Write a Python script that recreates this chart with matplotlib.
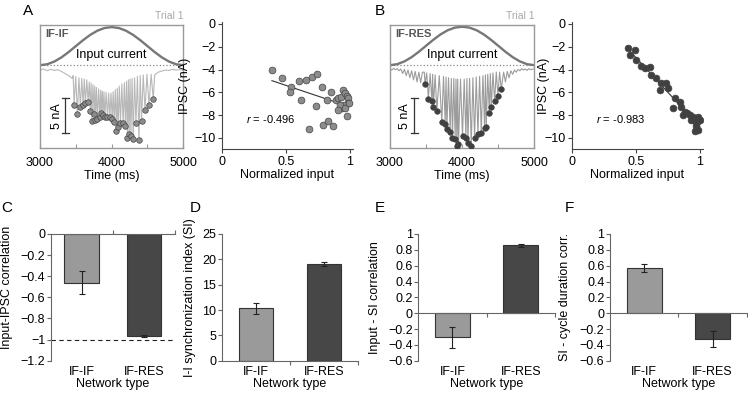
import numpy as np
import matplotlib
matplotlib.use("Agg")
import matplotlib.pyplot as plt
from matplotlib.ticker import FuncFormatter

plt.rcParams['font.family'] = ['Liberation Sans', 'DejaVu Sans']
plt.rcParams['mathtext.fontset'] = 'custom'
plt.rcParams['mathtext.it'] = 'Liberation Sans:italic'
plt.rcParams['mathtext.rm'] = 'Liberation Sans'
plt.rcParams['font.size'] = 9

W, H = 748, 401

# ---------------- data ----------------
# input current (display units above the dotted line), every 100 ms
input_t = [3000, 3100, 3200, 3300, 3400, 3500, 3600, 3700, 3800, 3900, 4000,
           4100, 4200, 4300, 4400, 4500, 4600, 4700, 4800, 4900, 5000]
input_a = [0, 0.13, 0.52, 1.12, 1.88, 2.73, 3.57, 4.33, 4.93, 5.32, 5.45,
           5.32, 4.93, 4.33, 3.57, 2.73, 1.88, 1.12, 0.52, 0.13, 0]
input_b = [0, 0.14, 0.54, 1.15, 1.92, 2.78, 3.63, 4.40, 5.00, 5.38, 5.50,
           5.38, 5.00, 4.40, 3.63, 2.78, 1.92, 1.15, 0.54, 0.14, 0]

# IF-IF trial: IPSC trace (nA)
pre_t_a = [3000, 3050, 3100, 3150, 3200, 3250, 3300, 3350, 3400, 3450]
pre_v_a = [-0.7, -0.55, -0.8, -0.6, -0.75, -0.65, -0.9, -1.2, -1.5, -1.9]
peak_t_a = [3476, 3522, 3564, 3602, 3634, 3672, 3704, 3723, 3755, 3774, 3802, 3835,
            3858, 3881, 3905, 3942, 3975, 4007, 4035, 4067, 4091, 4123, 4161, 4193,
            4221, 4245, 4269, 4301, 4339, 4381, 4417, 4465, 4521, 4581]
peak_v_a = [-5.71, -7.0, -5.96, -5.71, -5.47, -5.24, -6.53, -8.0, -7.04, -7.86, -7.76, -7.47,
            -6.9, -7.19, -7.39, -7.47, -7.47, -7.67, -8.1, -9.39, -8.81, -8.33, -8.33, -8.71,
            -10.47, -9.86, -10.14, -10.57, -8.33, -10.71, -7.96, -6.43, -5.71, -4.86]
top_v_a = [-1.5, -1.6, -1.8, -1.9, -2.0, -2.1, -2.4, -2.6, -2.8, -3.0, -3.2, -3.4,
           -3.6, -3.7, -3.8, -3.9, -4.0, -4.0, -3.8, -3.5, -3.3, -3.0, -2.7, -2.5,
           -2.3, -2.1, -2.0, -1.9, -1.8, -1.6, -1.5, -1.4, -1.3, -1.3]
post_t_a = [4600, 4650, 4700, 4750, 4800, 4850, 4900, 4950, 5000]
post_v_a = [-1.4, -1.0, -0.85, -0.7, -0.75, -0.6, -0.7, -0.65, -0.7]

# IF-RES trial: IPSC trace (nA)
pre_t_b = [3000, 3025, 3050, 3075, 3100, 3125, 3150, 3175, 3200, 3225,
           3250, 3275, 3300, 3325, 3350, 3375, 3400, 3425, 3450, 3465]
pre_v_b = [-0.5, -0.7, -0.45, -0.65, -0.5, -0.8, -0.55, -1.2, -0.6, -1.5,
           -0.7, -1.8, -0.8, -2.1, -0.9, -2.4, -1.0, -2.5, -1.0, -1.0]
peak_t_b = [3486, 3532, 3580, 3602, 3649, 3718, 3765, 3788, 3834, 3866, 3903, 3927, 3949,
            4005, 4052, 4080, 4126, 4172, 4219, 4265, 4311, 4334, 4376, 4404, 4450, 4496, 4542]
peak_v_b = [-2.65, -4.8, -5.1, -6.0, -6.5, -8.2, -8.35, -9.2, -9.5, -10.4, -10.5, -11.6, -11.3,
            -10.2, -10.4, -11.1, -11.6, -10.4, -9.9, -9.7, -9.0, -8.8, -6.8, -6.0, -5.1, -4.35, -3.4]
top_v_b = [-1.0, -1.1, -1.2, -1.3, -1.4, -1.5, -1.6, -1.7, -1.8, -1.9, -1.9, -2.0, -2.0,
           -2.0, -2.0, -1.9, -1.9, -1.8, -1.7, -1.6, -1.5, -1.4, -1.3, -1.2, -1.1, -1.0, -1.0]
post_t_b = [4575, 4600, 4625, 4650, 4675, 4700, 4725, 4750, 4775, 4800,
            4825, 4850, 4875, 4900, 4925, 4950, 4975, 5000]
post_v_b = [-1.0, -2.4, -0.9, -1.8, -0.8, -1.3, -0.7, -1.0, -0.6, -0.8,
            -0.5, -0.7, -0.55, -0.75, -0.5, -0.65, -0.55, -0.6]

# normalized input vs IPSC peak
norm_in_a = [0.39, 0.465, 0.535, 0.53, 0.60, 0.655, 0.705, 0.74, 0.615, 0.733, 0.783, 0.85,
             0.817, 0.68, 0.79, 0.83, 0.87, 0.888, 0.908, 0.93, 0.948, 0.96, 0.974, 0.987,
             0.982, 0.953, 0.935, 0.92, 0.903, 0.979, 0.96, 0.99]
ipsc_a = [-4.03, -4.77, -5.5, -5.94, -5.0, -4.91, -4.62, -4.36, -6.7, -7.17, -5.56, -6.0,
          -6.67, -9.2, -8.86, -8.48, -8.92, -6.67, -6.52, -6.37, -5.79, -6.08, -6.29, -6.46,
          -6.9, -7.1, -7.4, -7.1, -7.54, -8.07, -7.4, -6.96]
norm_in_b = [0.4375, 0.49, 0.45, 0.50, 0.54, 0.568, 0.607, 0.62, 0.659, 0.698, 0.737, 0.75,
             0.685, 0.807, 0.84, 0.79, 0.854, 0.88, 0.90, 0.92, 0.867, 0.945, 0.984, 0.958,
             0.979, 0.997, 0.932, 0.971, 0.958, 0.984]
ipsc_b = [-2.13, -2.28, -2.72, -3.16, -3.68, -3.89, -3.8, -4.47, -4.77, -5.15, -5.2, -5.64,
          -5.79, -6.52, -6.81, -7.4, -7.25, -7.69, -7.84, -7.98, -7.98, -8.13, -8.19, -8.48,
          -8.57, -8.42, -8.42, -8.95, -9.36, -9.3]
r_a = -0.496
r_b = -0.983

# bar panels
net_types = ['IF-IF', 'IF-RES']
corr_in_ipsc = [-0.46, -0.966]
corr_in_ipsc_err = [0.105, 0.006]
sync_index = [10.3, 19.05]
sync_index_err = [1.15, 0.35]
corr_in_si = [-0.305, 0.855]
corr_in_si_err = [0.13, 0.025]
corr_si_cycle = [0.572, -0.324]
corr_si_cycle_err = [0.055, 0.105]

LIGHT = '#9a9a9a'
DARK = '#474747'


def minus_fmt(v, pos):
    s = f'{v:g}'
    if s == '-0':
        s = '0'
    return s.replace('-', '\u2212')


def px_axes(fig, l, t, r, b):
    return fig.add_axes([l / W, 1 - b / H, (r - l) / W, (b - t) / H])


def trace_panel(ax, pre_t, pre_v, peak_t, peak_v, top_v, post_t, post_v, inp,
                name, line_color, dot_color, bar_t, label_t):
    ts, vs = list(pre_t), list(pre_v)
    prev = pre_t[-1]
    for t, v, top in zip(peak_t, peak_v, top_v):
        ts += [(prev + t) / 2, t]
        vs += [top, v]
        prev = t
    ts += post_t
    vs += post_v
    ax.axhline(0, ls=':', color='#888888', lw=0.9)
    ax.plot(input_t, inp, color='#777777', lw=1.7)
    ax.plot(ts, vs, color=line_color, lw=0.8)
    ax.scatter(peak_t, peak_v, s=16, c=dot_color, edgecolors='#444444',
               linewidths=0.5, zorder=3)
    # 5 nA scale bar
    ax.plot([bar_t, bar_t], [-4.75, -9.75], color='#333333', lw=0.9)
    for yy in (-4.75, -9.75):
        ax.plot([bar_t - 45, bar_t + 45], [yy, yy], color='#333333', lw=0.9)
    ax.text(label_t, -7.25, '5 nA', rotation=90, ha='center', va='center')
    ax.text(4000, 1.45, 'Input current', ha='center', va='center')
    ax.text(0.035, 0.93, name, transform=ax.transAxes, fontsize=8,
            fontweight='bold', color='#555555', va='center')
    ax.text(1.0, 1.035, 'Trial 1', transform=ax.transAxes, ha='right', va='bottom',
            fontsize=7.5, color='#a8a8a8')
    ax.set_xlim(3000, 5000)
    ax.set_ylim(-11.9, 5.75)
    ax.set_xticks([3000, 3500, 4000, 4500, 5000], ['3000', '', '4000', '', '5000'])
    ax.set_yticks([])
    ax.tick_params(axis='x', direction='in', length=3, color='#999999', pad=6)
    for sp in ax.spines.values():
        sp.set_color('#999999')
        sp.set_linewidth(1.0)
    ax.set_xlabel('Time (ms)', labelpad=1)


def scatter_panel(ax, x, y, r, face, ylab_x):
    slope, icept = np.polyfit(x, y, 1)
    xx = np.array([min(x), max(x)])
    ax.plot(xx, slope * xx + icept, color='#333333', lw=0.8, zorder=2)
    ax.scatter(x, y, s=24, c=face, edgecolors='#444444', linewidths=0.5, zorder=3)
    ax.text(0.19, -8.3, f'$r$ = {r:.3f}', fontsize=8, va='center')
    ax.set_xlim(0, 1.02)
    ax.set_ylim(-11, 0.2)
    ax.set_xticks([0, 0.5, 1])
    ax.set_yticks([0, -2, -4, -6, -8, -10])
    ax.xaxis.set_major_formatter(FuncFormatter(minus_fmt))
    ax.yaxis.set_major_formatter(FuncFormatter(minus_fmt))
    ax.spines[['top', 'right']].set_visible(False)
    for sp in ('left', 'bottom'):
        ax.spines[sp].set_color('#444444')
        ax.spines[sp].set_linewidth(0.8)
    ax.tick_params(direction='out', length=3, width=0.8, color='#444444', pad=1.5)
    ax.set_xlabel('Normalized input', labelpad=1)
    ax.set_ylabel('IPSC (nA)')
    ax.yaxis.set_label_coords(ylab_x, 0.5)


def bar_panel(ax, vals, errs, ylim, yticks, ylabel, ylab_x, ylab_y, width, tick_dir):
    ax.bar([0.5, 1.5], vals, width=width, color=[LIGHT, DARK], edgecolor='#333333',
           linewidth=0.8, yerr=errs, capsize=2,
           error_kw=dict(elinewidth=0.8, capthick=0.8, ecolor='#222222'), zorder=2)
    ax.set_xlim(0, 2)
    ax.set_ylim(*ylim)
    ax.set_yticks(yticks)
    ax.yaxis.set_major_formatter(FuncFormatter(minus_fmt))
    ax.spines[['top', 'right']].set_visible(False)
    ax.spines['bottom'].set_position(('data', 0))
    for sp in ('left', 'bottom'):
        ax.spines[sp].set_color('#666666')
        ax.spines[sp].set_linewidth(0.8)
    ax.set_xticks([1, 2], ['', ''])
    ax.tick_params(axis='x', direction=tick_dir, length=3, width=0.8, color='#666666')
    ax.tick_params(axis='y', direction='out', length=3, width=0.8, color='#666666', pad=1)
    sec = ax.secondary_xaxis('bottom')
    sec.set_xticks([0.5, 1.5], net_types)
    sec.tick_params(length=0, pad=4)
    sec.spines['bottom'].set_visible(False)
    sec.set_xlabel('Network type', labelpad=0)
    ax.set_ylabel(ylabel)
    ax.yaxis.set_label_coords(ylab_x, ylab_y)


fig = plt.figure(figsize=(W / 100, H / 100), dpi=100)

ax_a1 = px_axes(fig, 40, 25, 183.3, 148.3)
trace_panel(ax_a1, pre_t_a, pre_v_a, peak_t_a, peak_v_a, top_v_a, post_t_a, post_v_a,
            input_a, 'IF-IF', '#b8b8b8', '#8c8c8c', 3354, 3233)
ax_a2 = px_axes(fig, 222, 21.7, 352.6, 149.4)
scatter_panel(ax_a2, norm_in_a, ipsc_a, r_a, '#8c8c8c', -0.24)

ax_b1 = px_axes(fig, 390, 25, 534.3, 148.3)
trace_panel(ax_b1, pre_t_b, pre_v_b, peak_t_b, peak_v_b, top_v_b, post_t_b, post_v_b,
            input_b, 'IF-RES', '#9c9c9c', '#404040', 3337, 3208)
ax_b2 = px_axes(fig, 572, 21.7, 702.6, 149.4)
scatter_panel(ax_b2, norm_in_b, ipsc_b, r_b, '#404040', -0.17)

ax_c = px_axes(fig, 50.7, 234, 175, 360.7)
bar_panel(ax_c, corr_in_ipsc, corr_in_ipsc_err, (-1.2, 0),
          [0, -0.2, -0.4, -0.6, -0.8, -1, -1.2], 'Input-IPSC correlation',
          -0.305, 0.58, 0.556, 'in')
ax_c.axhline(-1, ls='--', color='#222222', lw=0.8, dashes=(4, 3), zorder=1)

ax_d = px_axes(fig, 221.7, 234, 358.3, 360.7)
bar_panel(ax_d, sync_index, sync_index_err, (0, 25), [0, 5, 10, 15, 20, 25],
          'I-I synchronization index (SI)', -0.19, 0.5, 0.505, 'out')

ax_e = px_axes(fig, 418.3, 234, 555, 360.7)
bar_panel(ax_e, corr_in_si, corr_in_si_err, (-0.6, 1),
          [-0.6, -0.4, -0.2, 0, 0.2, 0.4, 0.6, 0.8, 1], 'Input - SI correlation',
          -0.273, 0.5, 0.51, 'out')

ax_f = px_axes(fig, 610, 234, 746.7, 360.7)
bar_panel(ax_f, corr_si_cycle, corr_si_cycle_err, (-0.6, 1),
          [-0.6, -0.4, -0.2, 0, 0.2, 0.4, 0.6, 0.8, 1], 'SI - cycle duration corr.',
          -0.287, 0.5, 0.51, 'out')

# panel letters
for letter, x, y in [('A', 23, 4), ('B', 375, 4), ('C', 1, 201),
                     ('D', 190, 201), ('E', 375, 201), ('F', 565, 201)]:
    fig.text(x / W, 1 - y / H, letter, fontsize=11, va='top', ha='left')

fig.savefig('out.png', dpi=100)
